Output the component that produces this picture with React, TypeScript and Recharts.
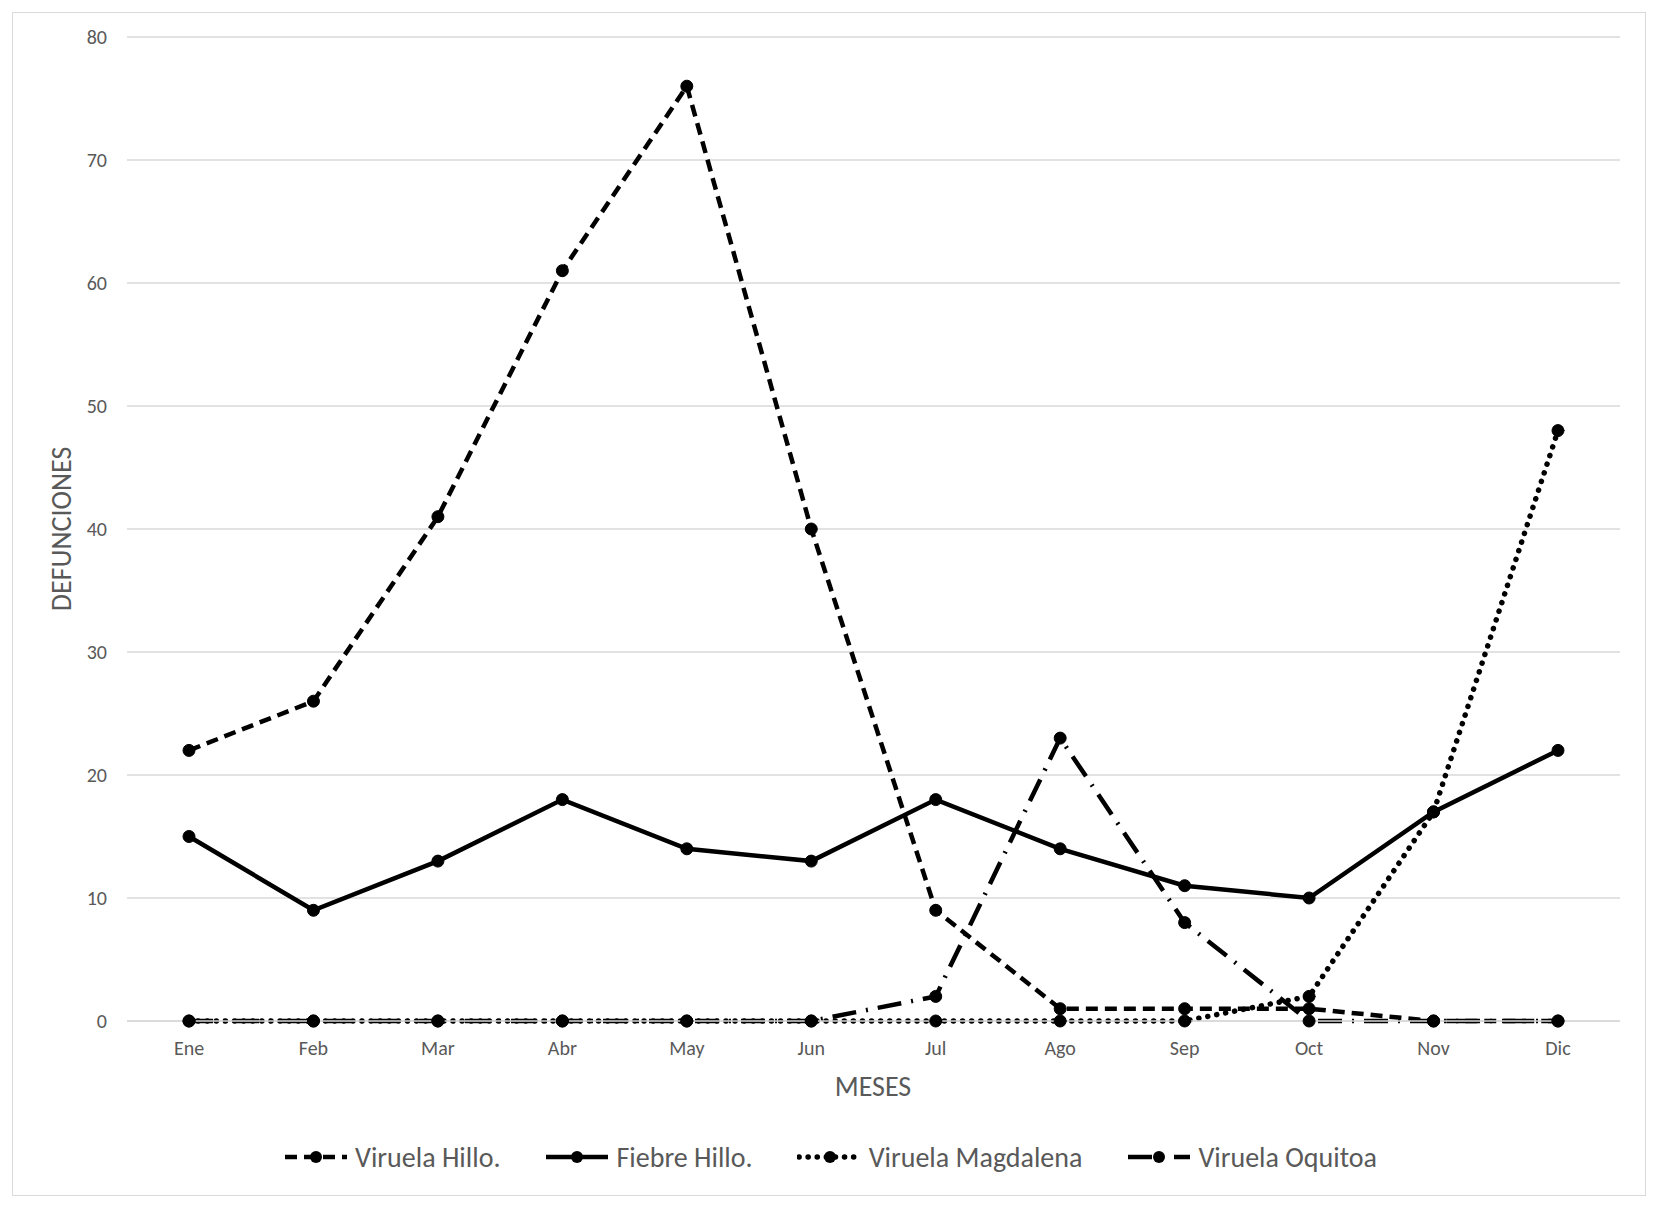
import { LineChart, Line, XAxis, YAxis, CartesianGrid } from 'recharts';

const months = ['Ene', 'Feb', 'Mar', 'Abr', 'May', 'Jun', 'Jul', 'Ago', 'Sep', 'Oct', 'Nov', 'Dic'];
const viruelaHillo = [22, 26, 41, 61, 76, 40, 9, 1, 1, 1, 0, 0];
const fiebreHillo = [15, 9, 13, 18, 14, 13, 18, 14, 11, 10, 17, 22];
const viruelaMagdalena = [0, 0, 0, 0, 0, 0, 0, 0, 0, 2, 17, 48];
const viruelaOquitoa = [0, 0, 0, 0, 0, 0, 2, 23, 8, 0, 0, 0];
const yTicks = [0, 10, 20, 30, 40, 50, 60, 70, 80];

const data = months.map((m, i) => ({
  month: m,
  hillo: viruelaHillo[i],
  fiebre: fiebreHillo[i],
  magdalena: viruelaMagdalena[i],
  oquitoa: viruelaOquitoa[i],
}));

const FONT = 'Carlito, Lato, "Open Sans", sans-serif';
const TEXT = '#595959';
const GRID = '#d9d9d9';

const series = [
  { key: 'hillo', name: 'Viruela Hillo.', dash: '12 7', cap: 'butt' as const, width: 4.5 },
  { key: 'fiebre', name: 'Fiebre Hillo.', dash: undefined, cap: 'butt' as const, width: 4.5 },
  { key: 'magdalena', name: 'Viruela Magdalena', dash: '0.1 9', cap: 'round' as const, width: 5.5 },
  { key: 'oquitoa', name: 'Viruela Oquitoa', dash: '24 10 2 10', cap: 'butt' as const, width: 4.5 },
];

const dot = { r: 6, fill: '#000', stroke: '#000', strokeWidth: 1, strokeDasharray: '0' };

export default function App() {
  return (
    <div style={{ position: 'absolute', left: 0, top: 0, width: 1660, height: 1212, background: '#fff', fontFamily: FONT }}>
      <div style={{ position: 'absolute', left: 12, top: 12, width: 1634, height: 1184, border: `1.5px solid ${GRID}`, boxSizing: 'border-box' }} />
      <LineChart width={1660} height={1212} data={data} margin={{ top: 37, right: 40, left: 0, bottom: 0 }}>
        <CartesianGrid stroke={GRID} strokeWidth={1.5} vertical={false} />
        <XAxis
          dataKey="month"
          height={191}
          padding={{ left: 62, right: 62 }}
          tickSize={0}
          tickMargin={20}
          axisLine={{ stroke: GRID, strokeWidth: 1.5 }}
          tick={{ fill: TEXT, fontSize: 20, fontFamily: FONT }}
          label={{
            content: () => (
              <text x={873} y={1096} textAnchor="middle" fill={TEXT} fontSize={28} fontFamily={FONT}>
                MESES
              </text>
            ),
          }}
        />
        <YAxis
          width={127}
          domain={[0, 80]}
          ticks={yTicks}
          tickSize={0}
          tickMargin={20}
          axisLine={false}
          tick={{ fill: TEXT, fontSize: 20, fontFamily: FONT }}
          label={{
            content: () => (
              <text
                x={61}
                y={529}
                transform="rotate(-90 61 529)"
                textAnchor="middle"
                dominantBaseline="central"
                fill={TEXT}
                fontSize={28}
                fontFamily={FONT}
              >
                DEFUNCIONES
              </text>
            ),
          }}
        />
        {series.map((s) => (
          <Line
            key={s.key}
            dataKey={s.key}
            name={s.name}
            type="linear"
            stroke="#000"
            strokeWidth={s.width}
            strokeDasharray={s.dash}
            strokeLinecap={s.cap}
            dot={dot}
            isAnimationActive={false}
          />
        ))}
      </LineChart>
      <div
        style={{
          position: 'absolute',
          left: 0,
          top: 1138,
          width: 1660,
          height: 38,
          display: 'flex',
          justifyContent: 'center',
          alignItems: 'center',
          gap: 44,
        }}
      >
        {series.map((s) => (
          <div key={s.key} style={{ display: 'flex', alignItems: 'center' }}>
            <svg width={66} height={20} style={{ marginRight: 6 }}>
              <line
                x1={2}
                x2={64}
                y1={10}
                y2={10}
                stroke="#000"
                strokeWidth={s.width}
                strokeDasharray={s.dash}
                strokeLinecap={s.cap}
              />
              <circle cx={33} cy={10} r={6} fill="#000" />
            </svg>
            <span style={{ fontSize: 28, color: TEXT, fontFamily: FONT }}>{s.name}</span>
          </div>
        ))}
      </div>
    </div>
  );
}
